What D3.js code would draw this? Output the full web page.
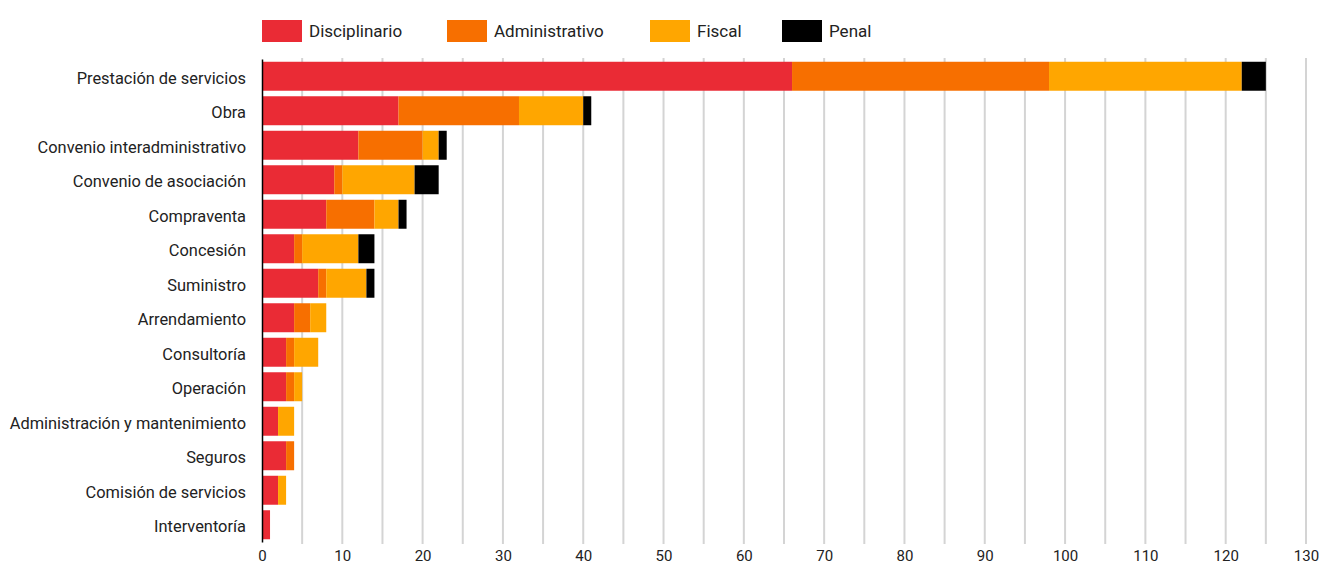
<!DOCTYPE html>
<html>
<head>
<meta charset="utf-8">
<script src="https://cdnjs.cloudflare.com/ajax/libs/d3/7.8.5/d3.min.js"></script>
<style>
  body { margin: 0; background: #fff; }
  text { font-family: Roboto, "Noto Sans", sans-serif; }
  .legend text, .xaxis text { font-family: "Liberation Sans Narrow", Roboto, sans-serif; }
</style>
</head>
<body>
<div id="chart"></div>
<script>
var categorias = ["Prestación de servicios", "Obra", "Convenio interadministrativo",
  "Convenio de asociación", "Compraventa", "Concesión", "Suministro", "Arrendamiento",
  "Consultoría", "Operación", "Administración y mantenimiento", "Seguros",
  "Comisión de servicios", "Interventoría"];

var disciplinario  = [66, 17, 12, 9, 8, 4, 7, 4, 3, 3, 2, 3, 2, 1];
var administrativo = [32, 15, 8, 1, 6, 1, 1, 2, 1, 1, 0, 1, 0, 0];
var fiscal         = [24, 8, 2, 9, 3, 7, 5, 2, 3, 1, 2, 0, 1, 0];
var penal          = [3, 1, 1, 3, 1, 2, 1, 0, 0, 0, 0, 0, 0, 0];

var series = ["Disciplinario", "Administrativo", "Fiscal", "Penal"];
var colores = ["#ea2b35", "#f76f00", "#ffa600", "#000000"];
var ticksX = d3.range(0, 131, 10);

var svg = d3.select("#chart").append("svg")
  .attr("width", 1319)
  .attr("height", 565);

var tabla = categorias.map(function(c, i) {
  return { cat: c, Disciplinario: disciplinario[i], Administrativo: administrativo[i],
           Fiscal: fiscal[i], Penal: penal[i] };
});

var xScale = d3.scaleLinear().domain([0, 130]).range([262, 1306]);
var yScale = d3.scaleBand().domain(categorias).range([59, 542]).paddingInner(0.16).paddingOuter(0.08);
var color = d3.scaleOrdinal().domain(series).range(colores);

// grid lines every 5
var grid = svg.append("g").attr("class", "grid");
grid.selectAll("line")
  .data(d3.range(5, 131, 5))
  .enter().append("line")
  .attr("x1", function(d) { return xScale(d); })
  .attr("x2", function(d) { return xScale(d); })
  .attr("y1", 58)
  .attr("y2", 544)
  .attr("stroke", "#d4d4d4")
  .attr("stroke-width", 2);

var stack = d3.stack().keys(series);
var capas = stack(tabla);

svg.append("g").selectAll("g")
  .data(capas)
  .enter().append("g")
  .attr("fill", function(d) { return color(d.key); })
  .selectAll("rect")
  .data(function(d) { return d; })
  .enter().append("rect")
  .attr("x", function(d) { return xScale(d[0]); })
  .attr("width", function(d) { return xScale(d[1]) - xScale(d[0]); })
  .attr("y", function(d) { return yScale(d.data.cat); })
  .attr("height", yScale.bandwidth());

// y axis
var yAxis = d3.axisLeft(yScale).tickSize(0).tickPadding(16);
var yG = svg.append("g").attr("transform", "translate(262,0)").call(yAxis);
yG.select(".domain").attr("stroke", "#000").attr("stroke-width", 1.5);
yG.selectAll("text").attr("font-size", 16.4).attr("fill", "#222")
  .attr("dy", "0.45em")
  .style("font-family", "Roboto, sans-serif");

// x axis labels
var xAxis = d3.axisBottom(xScale).tickValues(ticksX).tickSize(0).tickPadding(8);
var xG = svg.append("g").attr("class", "xaxis").attr("transform", "translate(0,542)").call(xAxis);
xG.select(".domain").remove();
xG.selectAll("text").attr("font-size", 15).attr("fill", "#222");

// legend
var legendX = [262, 447, 650, 782];
var leg = svg.append("g").attr("class", "legend");
var item = leg.selectAll("g").data(series).enter().append("g")
  .attr("transform", function(d, i) { return "translate(" + legendX[i] + ",20)"; });
item.append("rect").attr("width", 40).attr("height", 22)
  .attr("fill", function(d) { return color(d); });
item.append("text").attr("x", 47).attr("y", 17)
  .attr("font-size", 17).attr("fill", "#222")
  .text(function(d) { return d; });
</script>
</body>
</html>
